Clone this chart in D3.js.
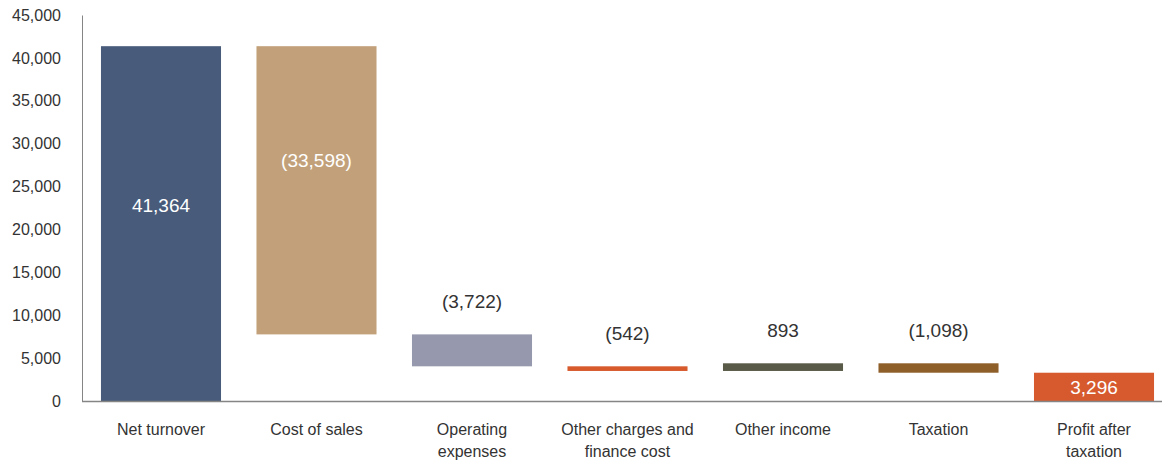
<!DOCTYPE html>
<html>
<head>
<meta charset="utf-8">
<script src="https://cdn.jsdelivr.net/npm/d3@7"></script>
<style>
  body { margin: 0; background: #fff; }
  svg text { font-family: "Liberation Sans", Arial, Helvetica, sans-serif; }
</style>
</head>
<body>
<svg id="chart" width="1162" height="465"></svg>
<script>
const categories = ['Net turnover', 'Cost of sales', 'Operating expenses', 'Other charges and finance cost', 'Other income', 'Taxation', 'Profit after taxation'];
const labelLines = [['Net turnover'], ['Cost of sales'], ['Operating', 'expenses'], ['Other charges and', 'finance cost'], ['Other income'], ['Taxation'], ['Profit after', 'taxation']];
const values = [41364, -33598, -3722, -542, 893, -1098, 3296];
const isTotal = [true, false, false, false, false, false, true];
const valueText = ['41,364', '(33,598)', '(3,722)', '(542)', '893', '(1,098)', '3,296'];
// where a label sits inside its bar (data units), null = above the bar
const labelInside = [22800, 28100, null, null, null, null, 'mid'];
const colors = ['#485b7a', '#c2a17a', '#9698ad', '#d65a2c', '#595a47', '#8f5f2a', '#d65a2e'];
const yTicks = [0, 5000, 10000, 15000, 20000, 25000, 30000, 35000, 40000, 45000];

// waterfall steps
let running = 0;
const steps = values.map((v, i) => {
  let lo, hi;
  if (isTotal[i]) { lo = 0; hi = v; running = v; }
  else { const start = running; running += v; lo = Math.min(start, running); hi = Math.max(start, running); }
  return { cat: categories[i], lo, hi, i };
});

const svg = d3.select('#chart');
const x = d3.scaleBand().domain(categories).range([82, 1173]).paddingInner(0.228).paddingOuter(0.122);
const y = d3.scaleLinear().domain([0, 45000]).range([401, 15]);

// y axis
const yAxis = svg.append('g').attr('transform', 'translate(82,0)')
  .call(d3.axisLeft(y).tickValues(yTicks).tickSize(0).tickPadding(21).tickFormat(d3.format(',')));
yAxis.select('.domain').attr('stroke', '#858585');
yAxis.selectAll('text').attr('font-size', 16).attr('fill', '#333');

// bars
svg.append('g').selectAll('rect').data(steps).join('rect')
  .attr('x', d => x(d.cat))
  .attr('width', x.bandwidth())
  .attr('y', d => y(d.hi))
  .attr('height', d => y(d.lo) - y(d.hi))
  .attr('fill', (d, i) => colors[i]);

// x axis line
svg.append('line').attr('x1', 82).attr('x2', 1162).attr('y1', y(0) + 0.5).attr('y2', y(0) + 0.5)
  .attr('stroke', '#858585').attr('stroke-width', 1.5);

// category labels
const cl = svg.append('g').selectAll('text').data(steps).join('text')
  .attr('x', d => x(d.cat) + x.bandwidth() / 2)
  .attr('y', 435)
  .attr('text-anchor', 'middle')
  .attr('font-size', 16)
  .attr('fill', '#333');
cl.selectAll('tspan').data(d => labelLines[d.i].map((t, k) => ({ t, k, cx: x(d.cat) + x.bandwidth() / 2 })))
  .join('tspan')
  .attr('x', t => t.cx)
  .attr('dy', t => t.k === 0 ? 0 : 22)
  .text(t => t.t);

// value labels
svg.append('g').selectAll('text').data(steps).join('text')
  .attr('x', d => x(d.cat) + x.bandwidth() / 2)
  .attr('y', d => {
    const p = labelInside[d.i];
    if (p === null) return y(d.hi) - 26;
    if (p === 'mid') return (y(d.lo) + y(d.hi)) / 2 + 7;
    return y(p) + 7;
  })
  .attr('text-anchor', 'middle')
  .attr('font-size', 19)
  .attr('fill', d => labelInside[d.i] === null ? '#333' : '#fff')
  .text(d => valueText[d.i]);
</script>
</body>
</html>
